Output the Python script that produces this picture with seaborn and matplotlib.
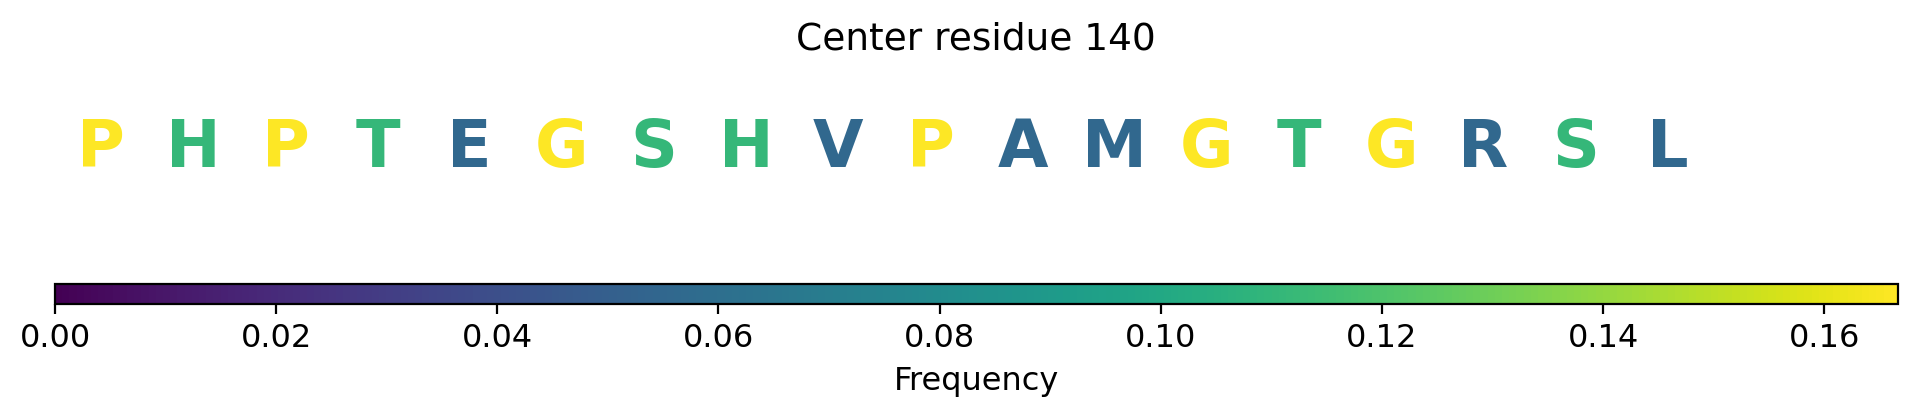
import numpy as np
import pandas as pd
import matplotlib
matplotlib.use("Agg")
import matplotlib.pyplot as plt
import seaborn as sns
from collections import Counter

# residues around the center position, left to right
residues = ['P', 'H', 'P', 'T', 'E', 'G', 'S', 'H', 'V',
            'P', 'A', 'M', 'G', 'T', 'G', 'R', 'S', 'L']
center_residue = 140
cbar_ticks = [0.00, 0.02, 0.04, 0.06, 0.08, 0.10, 0.12, 0.14, 0.16]

# frequency of each letter within the window
counts = Counter(residues)
freqs = np.array([counts[r] / len(residues) for r in residues])
df = pd.DataFrame({'pos': np.arange(len(residues)) + 0.5,
                   'residue': residues, 'freq': freqs})

sns.set_style("white")
plt.rcParams['font.family'] = ['DejaVu Sans']
plt.rcParams['text.color'] = 'black'
plt.rcParams['axes.labelcolor'] = 'black'
plt.rcParams['xtick.color'] = 'black'
cmap = sns.color_palette("viridis", as_cmap=True)
norm = matplotlib.colors.Normalize(vmin=0, vmax=freqs.max())

fig = plt.figure(figsize=(9.585, 2.08), dpi=200)
left, width = 55 / 1917, (1898 - 55) / 1917

# letters
ax = fig.add_axes([left, 0.40, width, 0.50])
ax.set_xlim(0, 20)
ax.set_ylim(0, 1)
base_y = (1 - 167 / 416 - 0.40) / 0.50
for _, row in df.iterrows():
    ax.text(row['pos'], base_y, row['residue'], ha='center', va='baseline',
            fontsize=23.5, fontweight='bold', color=cmap(norm(row['freq'])))
ax.axis('off')
fig.text(976 / 1917, 1 - 49 / 416, f"Center residue {center_residue}",
         ha='center', va='baseline', fontsize=13.5)

# colorbar
cax = fig.add_axes([left, 1 - 304 / 416, width, 20 / 416])
sm = matplotlib.cm.ScalarMappable(norm=norm, cmap=cmap)
cb = fig.colorbar(sm, cax=cax, orientation='horizontal')
cb.set_ticks(cbar_ticks)
cb.ax.xaxis.set_major_formatter(matplotlib.ticker.FormatStrFormatter('%.2f'))
cb.ax.tick_params(labelsize=11.5, length=3.5, width=0.8, direction='out',
                  bottom=True, colors='black')
cb.set_label('Frequency', fontsize=11.5)
cb.outline.set_linewidth(0.8)
cb.outline.set_edgecolor('black')

fig.savefig('out.png', dpi=200)
